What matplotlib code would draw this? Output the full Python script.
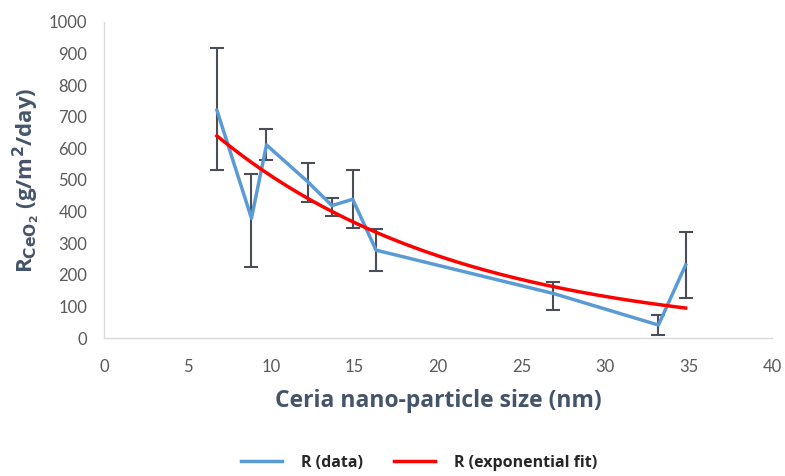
import numpy as np
import matplotlib
matplotlib.use("Agg")
import matplotlib.pyplot as plt

plt.rcParams['font.family'] = ['Lato', 'DejaVu Sans']

size_nm = [6.76, 8.83, 9.73, 12.19, 13.65, 14.89, 16.29, 26.9, 33.2, 34.83]
rate = [721, 379, 611, 495, 419, 439, 278, 141, 41, 231]
err_upper = [917, 519, 660, 555, 444, 532, 345, 178, 73, 335]
err_lower = [532, 226, 563, 431, 387, 347, 213, 89, 10, 126]

# exponential fit parameters: R = a * exp(-b * x)
fit_a = 1013.0
fit_b = 0.068

x_ticks = [0, 5, 10, 15, 20, 25, 30, 35, 40]
y_ticks = [0, 100, 200, 300, 400, 500, 600, 700, 800, 900, 1000]

fig = plt.figure(figsize=(7.85, 4.76), dpi=100)
ax = fig.add_axes([0.1325, 0.2899, 0.8509, 0.6639])

rate_a = np.array(rate)
yerr = [rate_a - np.array(err_lower), np.array(err_upper) - rate_a]
ax.errorbar(size_nm, rate, yerr=yerr, fmt='none', ecolor='#4a4f57',
            elinewidth=1.5, capsize=5, capthick=1.5, zorder=2)
l1, = ax.plot(size_nm, rate, color='#5B9BD5', lw=2.5, zorder=3, label='R (data)')

xf = np.linspace(size_nm[0], size_nm[-1], 200)
l2, = ax.plot(xf, fit_a * np.exp(-fit_b * xf), color='#FF0000', lw=2.5, zorder=4,
              label='R (exponential fit)')

ax.set_xlim(0, 40)
ax.set_ylim(0, 1000)
ax.set_xticks(x_ticks)
ax.set_yticks(y_ticks)
ax.tick_params(length=0, labelsize=12, labelcolor='#595959')
ax.tick_params(axis='y', pad=12)
ax.tick_params(axis='x', pad=15)
for s in ['top', 'right']:
    ax.spines[s].set_visible(False)
for s in ['left', 'bottom']:
    ax.spines[s].set_color('#d9d9d9')
    ax.spines[s].set_linewidth(1.0)

ax.set_xlabel('Ceria nano-particle size (nm)', fontsize=16.5, fontweight='bold',
              color='#44546A', labelpad=10, family=['Open Sans', 'DejaVu Sans'])
ax.set_ylabel(r'R$_{\mathbf{CeO_2}}$ (g/m$^{\mathbf{2}}$/day)', fontsize=16,
              fontweight='bold', color='#44546A', family=['Open Sans', 'DejaVu Sans'])
ax.yaxis.set_label_coords(-0.093, 0.5)

leg = fig.legend(handles=[l1, l2], loc='center', bbox_to_anchor=(0.534, 0.028),
                 ncol=2, frameon=False,
                 prop={'size': 11.5, 'weight': 'bold', 'family': ['Open Sans', 'DejaVu Sans']},
                 handlelength=2.6, columnspacing=1.9, handletextpad=1.2)
for t in leg.get_texts():
    t.set_color('#262626')

fig.savefig('out.png', dpi=100)
